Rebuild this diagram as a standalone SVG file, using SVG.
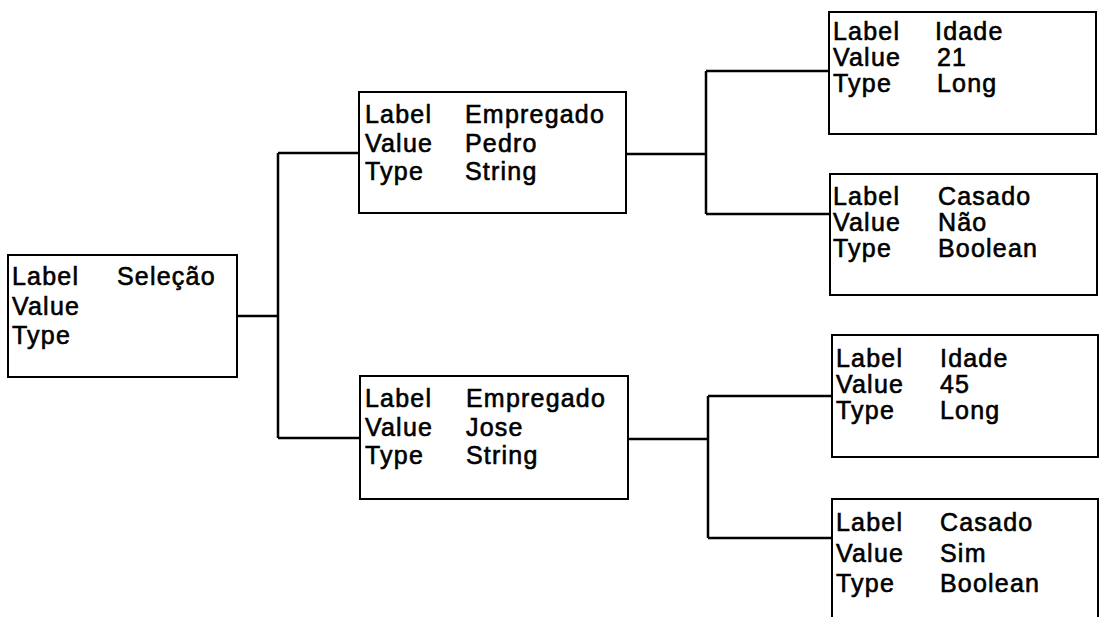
<svg xmlns="http://www.w3.org/2000/svg" width="1100" height="617" viewBox="0 0 1100 617">
<style>
.box{fill:#fff;stroke:#000;stroke-width:2}
.t{font-family:"Liberation Sans",Arial,sans-serif;font-size:25px;fill:#000;stroke:#000;stroke-width:0.6px;letter-spacing:1.2px}
.c{fill:none;stroke:#000;stroke-width:2.5}
</style>
<rect width="1100" height="617" fill="#fff"/>
<g id="connectors">
<path class="c" d="M237,316 H278 M278,153 V438 M278,153 H359 M278,438 H360"/>
<path class="c" d="M626,154 H706 M706,71 V214 M706,71 H829 M706,214 H830"/>
<path class="c" d="M628,439 H708 M708,396 V538 M708,396 H832 M708,538 H832"/>
</g>
<g id="node-selecao">
<rect class="box" x="8" y="255" width="229" height="122"/>
<text class="t" x="12" y="285">Label</text><text class="t" x="117" y="285">Seleção</text>
<text class="t" x="12" y="315">Value</text>
<text class="t" x="12" y="344">Type</text>
</g>
<g id="node-pedro">
<rect class="box" x="359" y="92" width="267" height="121"/>
<text class="t" x="365" y="123">Label</text><text class="t" x="465" y="123">Empregado</text>
<text class="t" x="365" y="152">Value</text><text class="t" x="465" y="152">Pedro</text>
<text class="t" x="365" y="180">Type</text><text class="t" x="465" y="180">String</text>
</g>
<g id="node-jose">
<rect class="box" x="360" y="376" width="268" height="123"/>
<text class="t" x="365" y="407">Label</text><text class="t" x="466" y="407">Empregado</text>
<text class="t" x="365" y="436">Value</text><text class="t" x="466" y="436">Jose</text>
<text class="t" x="365" y="464">Type</text><text class="t" x="466" y="464">String</text>
</g>
<g id="node-idade21">
<rect class="box" x="829" y="12" width="267" height="122"/>
<text class="t" x="833" y="40">Label</text><text class="t" x="935" y="40">Idade</text>
<text class="t" x="833" y="66">Value</text><text class="t" x="937" y="66">21</text>
<text class="t" x="833" y="92">Type</text><text class="t" x="937" y="92">Long</text>
</g>
<g id="node-casado-nao">
<rect class="box" x="830" y="174" width="267" height="121"/>
<text class="t" x="833" y="205">Label</text><text class="t" x="938" y="205">Casado</text>
<text class="t" x="833" y="231">Value</text><text class="t" x="938" y="231">Não</text>
<text class="t" x="833" y="257">Type</text><text class="t" x="938" y="257">Boolean</text>
</g>
<g id="node-idade45">
<rect class="box" x="832" y="335" width="266" height="122"/>
<text class="t" x="836" y="367">Label</text><text class="t" x="940" y="367">Idade</text>
<text class="t" x="836" y="393">Value</text><text class="t" x="940" y="393">45</text>
<text class="t" x="836" y="419">Type</text><text class="t" x="940" y="419">Long</text>
</g>
<g id="node-casado-sim">
<rect class="box" x="832" y="499" width="266" height="126"/>
<text class="t" x="836" y="531">Label</text><text class="t" x="940" y="531">Casado</text>
<text class="t" x="836" y="562">Value</text><text class="t" x="940" y="562">Sim</text>
<text class="t" x="836" y="592">Type</text><text class="t" x="940" y="592">Boolean</text>
</g>
</svg>
